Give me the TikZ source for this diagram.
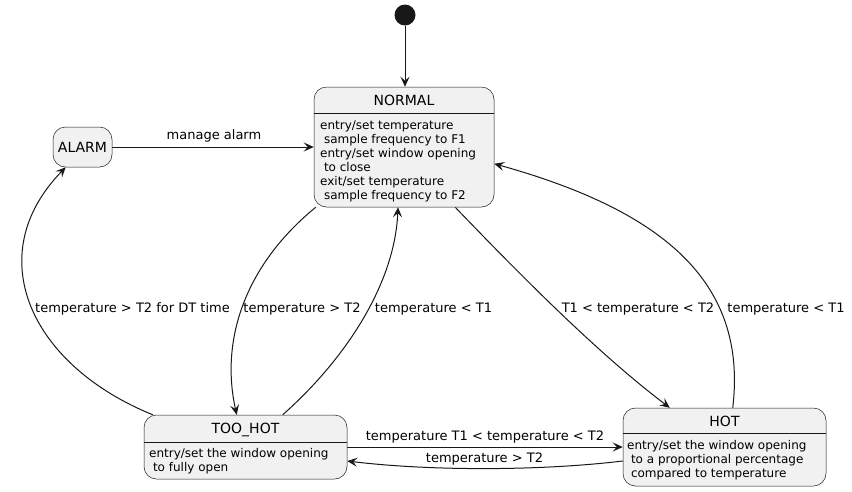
\documentclass[tikz,border=0pt]{standalone}
\usepackage{fontspec}
\setmainfont{DejaVu Sans}
\usetikzlibrary{arrows.meta,calc,backgrounds}
\definecolor{stfill}{HTML}{F1F1F1}
\definecolor{stline}{HTML}{181818}
\begin{document}
\begin{tikzpicture}[x=1pt,y=-1pt,
  statebox/.style={draw=stline, line width=0.5pt, fill=stfill, rounded corners=12.5pt, inner sep=0pt},
  divider/.style={draw=stline, line width=0.5pt},
  titletext/.style={font=\fontsize{14}{16}\selectfont, inner sep=0pt, anchor=base},
  bodytext/.style={font=\fontsize{12}{14}\selectfont, inner sep=0pt, anchor=base west},
  lbl/.style={font=\fontsize{13}{15}\selectfont, inner sep=0pt, anchor=base},
  trans/.style={draw=stline, line width=1pt, -{Stealth[length=10pt,width=9pt,inset=4pt]}},
]
\useasboundingbox (0,0) rectangle (852,491);

% initial state
\node[circle, fill=stline, minimum size=21pt, inner sep=0pt] (init) at (405,15) {};

% NORMAL
\node[statebox, minimum width=180pt, minimum height=120pt] (normal) at (404,147) {};
\draw[divider] ($(normal.north west)+(0,26)$) -- ($(normal.north east)+(0,26)$);
\node[titletext] (normaltitle) at (404,105) {NORMAL};
\node[bodytext] (nb1) at (320,129) {entry/set temperature};
\node[bodytext] (nb2) at (320,143) {\ sample frequency to F1};
\node[bodytext] (nb3) at (320,157) {entry/set window opening};
\node[bodytext] (nb4) at (320,171) {\ to close};
\node[bodytext] (nb5) at (320,185) {exit/set temperature};
\node[bodytext] (nb6) at (320,199) {\ sample frequency to F2};

% ALARM
\node[statebox, minimum width=59pt, minimum height=40pt] (alarm) at (82.5,147) {};
\node[titletext] (alarmtitle) at (82.5,152) {ALARM};

% TOO_HOT
\node[statebox, minimum width=203pt, minimum height=64pt] (toohot) at (245.5,447) {};
\draw[divider] ($(toohot.north west)+(0,27)$) -- ($(toohot.north east)+(0,27)$);
\node[titletext] (toohottitle) at (245.5,433) {TOO\_HOT};
\node[bodytext] (tb1) at (149,457) {entry/set the window opening};
\node[bodytext] (tb2) at (149,471) {\ to fully open};

% HOT
\node[statebox, minimum width=203pt, minimum height=78pt] (hot) at (724.5,447) {};
\draw[divider] ($(hot.north west)+(0,25)$) -- ($(hot.north east)+(0,25)$);
\node[titletext] (hottitle) at (724.5,426) {HOT};
\node[bodytext] (hb1) at (627,449) {entry/set the window opening};
\node[bodytext] (hb2) at (627,463) {\ to a proportional percentage};
\node[bodytext] (hb3) at (627,477) {\ compared to temperature};

% transitions
\begin{scope}[on background layer]
\draw[trans] (init) -- (init |- normal.north);
\draw[trans] (alarm.east) -- (normal.west);
\draw[trans] ($(normal.south west)+(2,0)$) .. controls (245,265) and (220,340) .. ($(toohot.north west)+(93,0)$);
\draw[trans] ($(toohot.north west)+(139,0)$) .. controls (350,355) and (395,280) .. ($(normal.south)+(-6,0)$);
\draw[trans] ($(toohot.north west)+(9,0)$) .. controls (30,365) and (-20,255) .. ($(alarm.south west)+(13,0)$);
\draw[trans] ($(normal.south east)+(-39,0)$) .. controls (525,280) and (600,355) .. ($(hot.north west)+(47,0)$);
\draw[trans] ($(hot.north west)+(110,0)$) .. controls (748,280) and (660,210) .. ($(normal.north east)+(0,77)$);
\draw[trans] (toohot.east) -- (hot.west);
\draw[trans] ($(hot.west)+(0,14)$) .. controls (540,471) and (430,471) .. ($(toohot.east)+(0,14)$);
\end{scope}

% labels
\node[lbl] (l1) at (214,139) {manage alarm};
\node[lbl] (l2) at (132.5,312) {temperature > T2 for DT time};
\node[lbl] (l3) at (302,312) {temperature > T2};
\node[lbl] (l4) at (433.5,312) {temperature < T1};
\node[lbl] (l5) at (638,312) {T1 < temperature < T2};
\node[lbl] (l6) at (786,312) {temperature < T1};
\node[lbl] (l7) at (485,440) {temperature T1 < temperature < T2};
\node[lbl] (l8) at (484.5,462) {temperature > T2};
\end{tikzpicture}
\end{document}
